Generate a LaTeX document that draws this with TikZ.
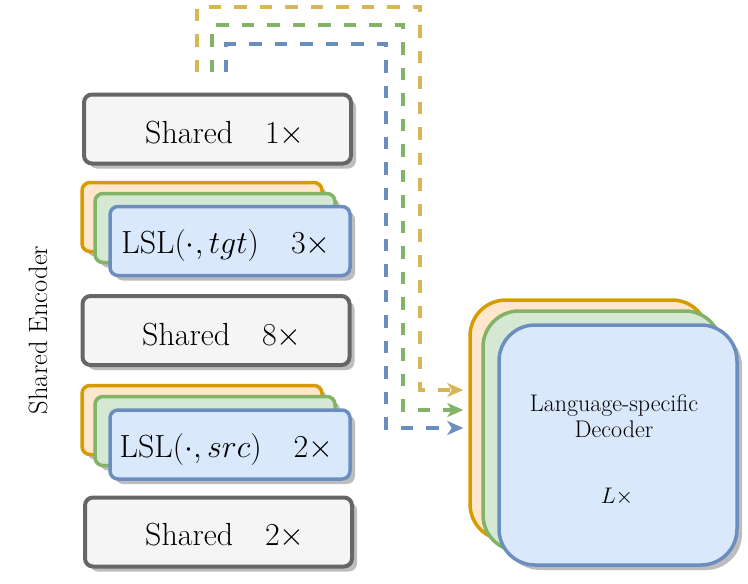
\RequirePackage{fix-cm}
\documentclass[tikz,border=0pt]{standalone}
\usetikzlibrary{arrows.meta,shadows}
\definecolor{grayS}{HTML}{666666}
\definecolor{grayF}{HTML}{F5F5F5}
\definecolor{orS}{HTML}{D79B00}
\definecolor{orF}{HTML}{FFE6CC}
\definecolor{grS}{HTML}{82B366}
\definecolor{grF}{HTML}{D5E8D4}
\definecolor{blS}{HTML}{6C8EBF}
\definecolor{blF}{HTML}{DAE8FC}
\definecolor{ylS}{HTML}{D6B656}
\definecolor{shd}{HTML}{BDBDBD}
\tikzset{
  shd/.style={drop shadow={shadow xshift=5pt,shadow yshift=-5pt,fill=shd,opacity=1}},
  sharedbox/.style={draw=grayS,fill=grayF,line width=4pt,rounded corners=8pt,
     minimum width=267pt,minimum height=69pt,inner sep=0pt,shd},
  lslbox/.style={line width=3.5pt,rounded corners=8pt,
     minimum width=240pt,minimum height=69pt,inner sep=0pt,shd},
  decbox/.style={line width=3.5pt,rounded corners=36pt,
     minimum width=238pt,minimum height=240pt,inner sep=0pt,shd},
  bigtxt/.style={font=\fontsize{32}{38}\selectfont,anchor=base,inner sep=0pt},
  dectxt/.style={font=\fontsize{24}{28}\selectfont,anchor=base,inner sep=0pt},
  flow/.style={line width=4pt,dash pattern=on 12.5pt off 13pt,
     -{Stealth[length=16pt,width=14pt,inset=4.5pt]}},
}
\begin{document}
\begin{tikzpicture}[x=1pt,y=-1pt]
\useasboundingbox (0,0) rectangle (748,584);

% shared boxes
\node[sharedbox] (s1) at (217.5,129) {};
\node[bigtxt] (t1) at (225,143) {Shared\quad$1\times$};
\node[sharedbox] (s8) at (216,330.5) {};
\node[bigtxt] (t8) at (222,345) {Shared\quad$8\times$};
\node[sharedbox] (s2) at (218.5,532) {};
\node[bigtxt] (t2) at (225,545) {Shared\quad$2\times$};

% LSL tgt
\node[lslbox,draw=orS,fill=orF] (lto) at (202,217) {};
\node[lslbox,draw=grS,fill=grF] (ltg) at (215,228) {};
\node[lslbox,draw=blS,fill=blF] (ltb) at (230,241) {};
\node[bigtxt] (tt) at (226,253) {LSL$(\cdot,tgt)$\quad$3\times$};

% LSL src
\node[lslbox,draw=orS,fill=orF] (lso) at (202,420) {};
\node[lslbox,draw=grS,fill=grF] (lsg) at (215,431) {};
\node[lslbox,draw=blS,fill=blF] (lsb) at (230,444.5) {};
\node[bigtxt] (ts) at (226.5,457) {LSL$(\cdot,src)$\quad$2\times$};

% encoder label
\node[font=\fontsize{26.5}{30}\selectfont,rotate=90,inner sep=0pt] (enc) at (38,330) {Shared Encoder};

% decoder
\node[decbox,draw=orS,fill=orF] (dO) at (589,420) {};
\node[decbox,draw=grS,fill=grF] (dG) at (602,431) {};
\node[decbox,draw=blS,fill=blF] (dB) at (618,445) {};
\node[dectxt] (dl1) at (614,411) {Language-specific};
\node[dectxt] (dl2) at (614,437) {Decoder};
\node[dectxt,font=\fontsize{22.5}{26}\selectfont] (dl3) at (617,503) {$L\times$};

% connectors
\coordinate (ys) at (197,72);
\coordinate (gs) at (212,72);
\coordinate (bs) at (226,72);
\coordinate (ye) at ([xshift=-5pt]dO.west |- 0,390);
\coordinate (ge) at ([xshift=-5pt]dO.west |- 0,410);
\coordinate (be) at ([xshift=-5pt]dO.west |- 0,428);
\draw[flow,draw=ylS] (ys) -- (197,7) -- (420,7) -- (420,390) -- (ye);
\draw[flow,draw=grS] (gs) -- (212,25) -- (403,25) -- (403,410) -- (ge);
\draw[flow,draw=blS] (bs) -- (226,44) -- (386,44) -- (386,428) -- (be);
\end{tikzpicture}
\end{document}
